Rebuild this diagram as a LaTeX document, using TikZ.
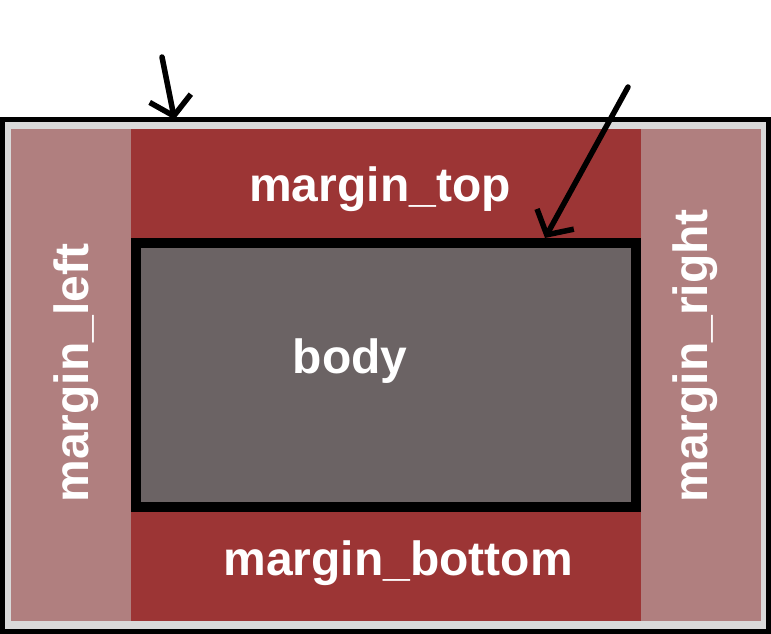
\documentclass[tikz,border=0pt]{standalone}
\usepackage{fontspec}
\setsansfont{Liberation Sans}
\usetikzlibrary{arrows.meta,calc}
\definecolor{topred}{HTML}{9C3535}
\definecolor{sidered}{HTML}{B07F7F}
\definecolor{bodygray}{HTML}{6B6364}
\definecolor{pagegray}{HTML}{D9D9D9}
\begin{document}
\begin{tikzpicture}[x=1pt,y=-1pt]
        \tikzstyle{frame}=[rectangle,inner sep=0pt,outer sep=0pt,draw=black]
        \tikzstyle{label}=[text=white,anchor=base,inner sep=0pt,font=\sffamily\bfseries\fontsize{48}{48}\selectfont]
        \tikzstyle{pointer}=[draw,line width=5.5pt,line cap=round,line join=round,-{Straight Barb[length=18pt,width=42pt]}]
        \useasboundingbox (0,0) rectangle (771,634);
       \begin{scope}
         % page with its margins
         \node [frame,line width=5pt,fill=pagegray,minimum width=766pt,minimum height=512pt] (page) at (385.5,375.5) {};
         \fill [sidered] (11,129) rectangle (131,621);
         \fill [sidered] (641,129) rectangle (761,621);
         \fill [topred] (131,129) rectangle (641,238);
         \fill [topred] (131,512) rectangle (641,621);
         \node [frame,line width=10pt,fill=bodygray,minimum width=500pt,minimum height=264pt] (body) at (386,375) {};

         \node [label] (lbltop) at (380,201) {margin\_top};
         \node [label] (lblbottom) at (398,575) {margin\_bottom};
         \node [label] (lblbody) at (350,373) {body};
         \node [label,rotate=90] (lblleft) at (88,373) {margin\_left};
         \node [label,rotate=90] (lblright) at (707,356) {margin\_right};

         \coordinate (tailpage) at (162,57);
         \coordinate (tailbody) at (628,87);
         \path[pointer] (tailpage) -- ($(page.north west)+(172,0)$);
         \path[pointer] (tailbody) -- ($(body.north west)+(409,-5)$);
        \end{scope}
      \end{tikzpicture}
\end{document}
